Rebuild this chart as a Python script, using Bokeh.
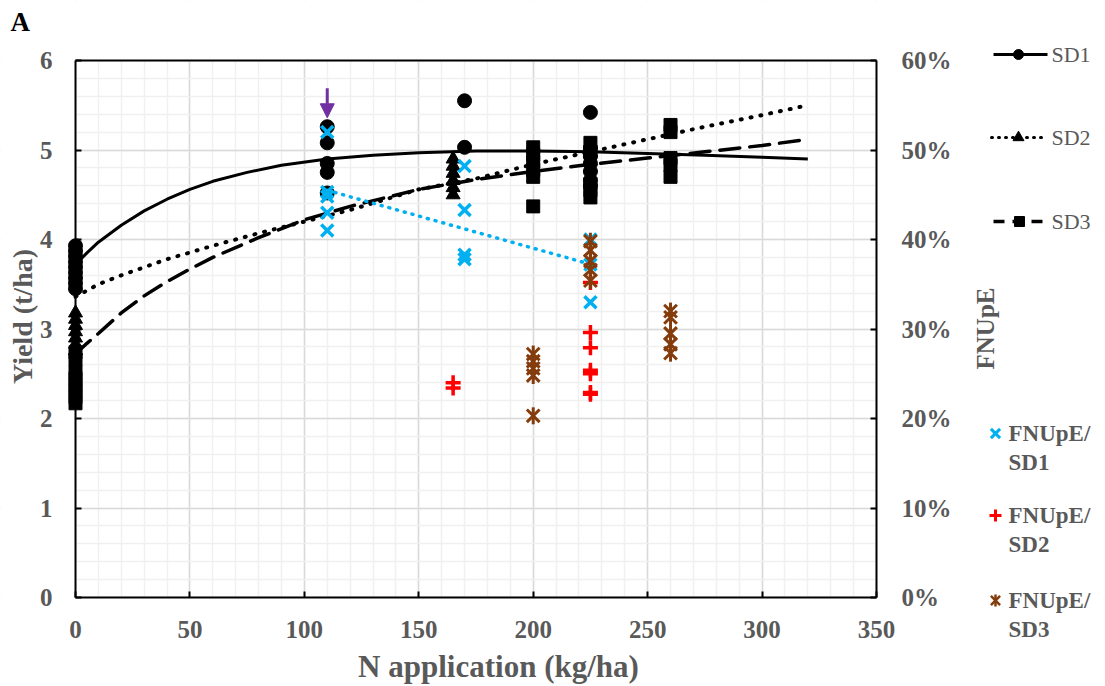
import numpy as np
from bokeh.plotting import figure
from bokeh.models import (Range1d, LinearAxis, Grid, SingleIntervalTicker, PrintfTickFormatter,
                          Arrow, NormalHead, BoxAnnotation)
from bokeh.core.properties import value
from bokeh.embed import file_html
from bokeh.resources import INLINE

# ---------------- data ----------------
# Yield (t/ha) observations
sd1_x = [0, 0, 0, 0, 0, 0, 0, 0, 0, 110, 110, 110, 110, 110, 170, 170,
         225, 225, 225, 225, 225, 225, 225]
sd1_y = [3.93, 3.87, 3.81, 3.75, 3.69, 3.63, 3.57, 3.51, 3.45, 5.26, 5.08, 4.85, 4.75, 4.52,
         5.55, 5.03, 5.42, 5.02, 4.93, 4.85, 4.76, 4.66, 4.60]
sd2_x = [0, 0, 0, 0, 0, 0, 0, 165, 165, 165, 165, 165, 165, 225, 225, 225, 225]
sd2_y = [3.18, 3.11, 3.04, 2.97, 2.90, 2.83, 2.76, 4.90, 4.82, 4.74, 4.66, 4.58, 4.50,
         5.06, 4.97, 4.88, 4.80]
sd3_x = [0, 0, 0, 0, 0, 0, 0, 0, 200, 200, 200, 200, 200, 200, 225, 225, 225, 225, 225,
         260, 260, 260, 260, 260]
sd3_y = [2.74, 2.66, 2.52, 2.45, 2.38, 2.31, 2.24, 2.17, 5.03, 4.95, 4.87, 4.78, 4.70, 4.37,
         5.08, 4.98, 4.62, 4.55, 4.47, 5.28, 5.20, 4.91, 4.83, 4.70]

# Trend curves
sd1_trend_x = [0, 5, 10, 20, 30, 40, 50, 60, 75, 90, 110, 130, 150, 175, 200, 225, 250, 275, 300, 320]
sd1_trend_y = [3.72, 3.85, 3.97, 4.16, 4.32, 4.45, 4.56, 4.65, 4.75, 4.83, 4.90, 4.94, 4.97,
               4.99, 4.99, 4.98, 4.96, 4.94, 4.92, 4.90]
sd2_trend_x = [0, 10, 20, 40, 60, 80, 100, 120, 150, 175, 200, 225, 250, 275, 300, 320]
sd2_trend_y = [3.36, 3.50, 3.60, 3.78, 3.93, 4.07, 4.20, 4.33, 4.56, 4.68, 4.84, 4.98, 5.12,
               5.26, 5.39, 5.50]
sd3_trend_x = [0, 5, 10, 20, 30, 40, 50, 60, 80, 100, 120, 150, 175, 200, 225, 250, 275, 300, 320]
sd3_trend_y = [2.72, 2.84, 2.95, 3.18, 3.37, 3.53, 3.67, 3.80, 4.02, 4.22, 4.37, 4.56, 4.67,
               4.76, 4.84, 4.91, 4.98, 5.05, 5.12]

# FNUpE (%) observations
f1_x = [110, 110, 110, 110, 110, 170, 170, 170, 170, 225, 225, 225]
f1_y = [52.0, 45.3, 44.8, 43.0, 41.0, 48.2, 43.3, 38.3, 37.8, 40.0, 37.2, 33.0]
f2_x = [165, 165, 225, 225, 225, 225, 225, 225, 225]
f2_y = [24.0, 23.4, 35.2, 29.6, 27.9, 25.4, 25.0, 22.9, 22.7]
f3_x = [200, 200, 200, 200, 200, 225, 225, 225, 225, 225, 260, 260, 260, 260, 260]
f3_y = [27.2, 26.4, 25.6, 24.8, 20.3, 39.8, 38.8, 37.6, 36.6, 35.4, 32.0, 31.3, 29.5, 28.3, 27.3]

# Highlight arrow (N rate, yield from -> to)
arrow_x = 110
arrow_y = [5.69, 5.36]

# axis extents
x_lim = [0, 350]
y_lim = [0, 6]
y2_lim = [0, 60]

panel_label = "A"
x_title = "N application (kg/ha)"
y_title = "Yield (t/ha)"
y2_title = "FNUpE"
yield_names = ["SD1", "SD2", "SD3"]
fnupe_names = [("FNUpE/", "SD1"), ("FNUpE/", "SD2"), ("FNUpE/", "SD3")]

# ---------------- layout / styles ----------------
FONT = value("Liberation Serif")
GRAY = "#595959"
CYAN = "#00B0F0"
RED = "#FF0000"
BROWN = "#843C0C"
PURPLE = "#7030A0"

W, H = 1100, 684
AREA_L, AREA_R, AREA_B, AREA_T = 75, 876, 597, 60   # plot-area edges in page pixels


def dx(px):
    """page x pixel -> N data value"""
    return x_lim[0] + (px - AREA_L) * (x_lim[1] - x_lim[0]) / (AREA_R - AREA_L)


def dy(py):
    """page y pixel -> yield data value"""
    return y_lim[0] + (AREA_B - py) * (y_lim[1] - y_lim[0]) / (AREA_B - AREA_T)


k2 = (y2_lim[1] - y2_lim[0]) / (y_lim[1] - y_lim[0])

p = figure(width=W, height=H, x_range=Range1d(dx(0), dx(W)), y_range=Range1d(dy(H), dy(0)),
           x_axis_location=None, y_axis_location=None, title=None,
           output_backend="svg", toolbar_location=None, min_border=0)
p.extra_y_ranges = {"pct": Range1d(dy(H) * k2, dy(0) * k2)}
p.background_fill_color = "white"
p.border_fill_color = "white"
p.outline_line_color = None
p.grid.visible = False

xt = SingleIntervalTicker(interval=50, num_minor_ticks=5)
yt = SingleIntervalTicker(interval=1, num_minor_ticks=5)
for dim, tk in ((0, xt), (1, yt)):
    p.add_layout(Grid(dimension=dim, ticker=tk, grid_line_color="#D9D9D9", grid_line_width=1.5,
                      minor_grid_line_color="#F0F0F0", minor_grid_line_width=1.5))
# blank out grid outside the plot area
for kw in (dict(right=x_lim[0]), dict(left=x_lim[1]), dict(bottom=y_lim[1]), dict(top=y_lim[0])):
    p.add_layout(BoxAnnotation(fill_color="white", fill_alpha=1, line_alpha=0,
                               level="underlay", **kw))

ax_l = LinearAxis(fixed_location=x_lim[0], bounds=tuple(y_lim), ticker=yt)
ax_b = LinearAxis(fixed_location=y_lim[0], bounds=tuple(x_lim), ticker=xt)
ax_r = LinearAxis(y_range_name="pct", fixed_location=x_lim[1], bounds=tuple(y2_lim),
                  ticker=SingleIntervalTicker(interval=10),
                  formatter=PrintfTickFormatter(format="%d%%"))
ax_t = LinearAxis(fixed_location=y_lim[1], bounds=tuple(x_lim), ticker=xt)
p.add_layout(ax_l, "left")
p.add_layout(ax_b, "below")
p.add_layout(ax_r, "right")
p.add_layout(ax_t, "above")

for ax in (ax_l, ax_b, ax_r, ax_t):
    ax.axis_line_color = "black"
    ax.axis_line_width = 2
    ax.major_tick_in = 6
    ax.major_tick_out = 0
    ax.major_tick_line_color = "black"
    ax.major_tick_line_width = 2
    ax.minor_tick_line_color = None
    ax.major_label_text_font = "Liberation Serif"
    ax.major_label_text_font_style = "bold"
    ax.major_label_text_font_size = "25px"
    ax.major_label_text_color = GRAY
ax_t.major_tick_line_color = None
ax_t.major_label_text_color = None
ax_l.major_label_standoff = 19
ax_b.major_label_standoff = 19
ax_r.major_label_standoff = 21

# black yield markers
p.scatter(sd1_x, sd1_y, marker="circle", size=14, fill_color="black", line_color="black")
p.scatter(sd2_x, sd2_y, marker="triangle", size=14, fill_color="black", line_color="black")
p.scatter(sd3_x, sd3_y, marker="square", size=13, fill_color="black", line_color="black")

# trend curves
p.line(sd1_trend_x, sd1_trend_y, line_color="black", line_width=3)
p.line(sd2_trend_x, sd2_trend_y, line_color="black", line_width=4, line_dash="1 9", line_cap="round")
p.line(sd3_trend_x, sd3_trend_y, line_color="black", line_width=3.5, line_dash="20 10", line_cap="round")

# FNUpE/SD1 linear trend (fitted from its own points)
k, b = np.polyfit(f1_x, f1_y, 1)
fx = np.array([min(f1_x), max(f1_x)])
p.line(fx, k * fx + b, y_range_name="pct", line_color=CYAN, line_width=3.5,
       line_dash="1 7", line_cap="round")

# FNUpE markers
p.scatter(f1_x, f1_y, y_range_name="pct", marker="x", size=17, line_color=CYAN, line_width=3.5)
p.scatter(f2_x, f2_y, y_range_name="pct", marker="cross", size=15, line_color=RED, line_width=3.5)
p.scatter(f3_x, f3_y, y_range_name="pct", marker="x", size=18, line_color=BROWN, line_width=3)
p.scatter(f3_x, f3_y, y_range_name="pct", marker="dash", angle=np.pi / 2, size=17,
          line_color=BROWN, line_width=3)

p.add_layout(Arrow(end=NormalHead(size=14, fill_color=PURPLE, line_color=PURPLE),
                   x_start=arrow_x, y_start=arrow_y[0], x_end=arrow_x, y_end=arrow_y[1],
                   line_color=PURPLE, line_width=3))

# ---------------- titles (placed in page pixels) ----------------
def txt(px, py, s, size, color=GRAY, bold=True, align="left", angle=0.0):
    p.text(x=[dx(px)], y=[dy(py)], text=[s], angle=angle, text_font=FONT,
           text_font_style="bold" if bold else "normal", text_font_size=size,
           text_color=color, text_align=align, text_baseline="middle")


txt(10, 21, panel_label, "27px", color="black")
txt(22, 316, y_title, "28px", align="center", angle=np.pi / 2)
txt(498, 666, x_title, "31px", align="center")
txt(985, 328, y2_title, "25px", align="center", angle=np.pi / 2)

# ---------------- legend (placed in page pixels) ----------------
ly = [54, 137, 221]
p.line([dx(993), dx(1047)], [dy(ly[0])] * 2, line_color="black", line_width=3)
p.scatter([dx(1018)], [dy(ly[0])], marker="circle", size=10, fill_color="black", line_color="black")
p.line([dx(991), dx(1047)], [dy(ly[1])] * 2, line_color="black", line_width=3, line_dash="1 6",
       line_cap="round")
p.scatter([dx(1018)], [dy(ly[1])], marker="triangle", size=11, fill_color="black", line_color="black")
p.line([dx(993), dx(1049)], [dy(ly[2])] * 2, line_color="black", line_width=3.5, line_dash="11 8")
p.scatter([dx(1019)], [dy(ly[2])], marker="square", size=10, fill_color="black", line_color="black")
for yy, name in zip(ly, yield_names):
    txt(1051, yy, name, "22px", bold=False)

fy = [433, 515, 600]
p.scatter([dx(995)], [dy(fy[0])], marker="x", size=13, line_color=CYAN, line_width=3)
p.scatter([dx(995)], [dy(fy[1])], marker="cross", size=12, line_color=RED, line_width=3)
p.scatter([dx(995)], [dy(fy[2])], marker="x", size=13, line_color=BROWN, line_width=2.5)
p.scatter([dx(995)], [dy(fy[2])], marker="dash", angle=np.pi / 2, size=12, line_color=BROWN,
          line_width=2.5)
for yy, (l1, l2) in zip(fy, fnupe_names):
    txt(1008, yy, l1, "23px")
    txt(1008, yy + 29, l2, "23px")

open("out.html", "w").write(file_html(p, INLINE))
